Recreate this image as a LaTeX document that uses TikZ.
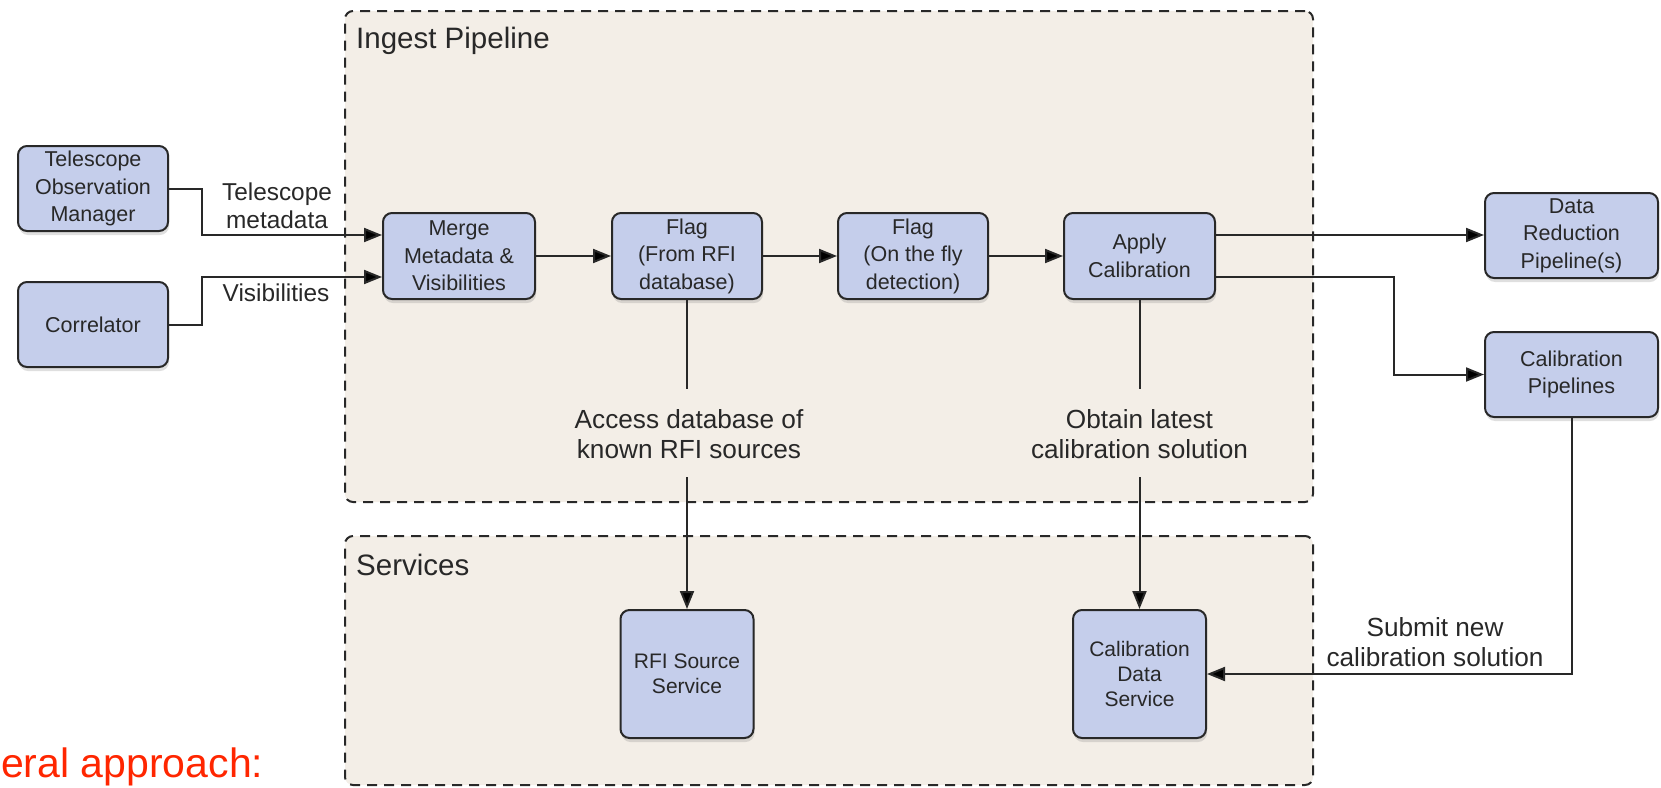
\documentclass[tikz,border=0pt]{standalone}
\usepackage{fontspec}
\setmainfont{Liberation Sans}
\usetikzlibrary{arrows.meta,shadows}

\definecolor{boxfill}{RGB}{197,206,235}
\definecolor{panelfill}{RGB}{243,238,231}
\definecolor{ink}{RGB}{40,40,40}
\definecolor{redtxt}{RGB}{255,38,0}

\tikzset{
  proc/.style={draw=ink, line width=2pt, fill=boxfill, rounded corners=9pt,
    align=center, text=ink, inner sep=0pt,
    font=\fontsize{21.5}{27.5}\selectfont,
    drop shadow={shadow xshift=1pt, shadow yshift=-4pt, opacity=0.25}},
  svc/.style={proc, font=\fontsize{21}{25}\selectfont},
  panel/.style={draw=ink, line width=2pt, dash pattern=on 10pt off 7pt,
    fill=panelfill, rounded corners=8pt, inner sep=0pt},
  conn/.style={draw=ink, line width=2pt, -{Triangle[length=18pt,width=14pt,fill=black]}},
  plainline/.style={draw=ink, line width=2pt},
  lbl/.style={text=ink, align=center, inner sep=0pt,
    font=\fontsize{26.2}{30.5}\selectfont},
  sidelbl/.style={text=ink, align=center, inner sep=0pt,
    font=\fontsize{24.4}{28}\selectfont},
  title/.style={text=ink, inner sep=0pt, anchor=base west,
    font=\fontsize{29.5}{34}\selectfont},
}

\begin{document}
\begin{tikzpicture}[x=1pt, y=-1pt]
\useasboundingbox (0,0) rectangle (1661,787);

% panels
\node[panel, minimum width=968pt, minimum height=491pt] (ingest) at (829,256.5) {};
\node[panel, minimum width=968pt, minimum height=249pt] (services) at (829,660.5) {};
\node[title] (ingesttitle) at (356,48) {Ingest Pipeline};
\node[title] (servicestitle) at (356,575) {Services};

% boxes
\node[proc, minimum width=150pt, minimum height=85pt] (tom) at (93,188.5) {Telescope\\Observation\\Manager};
\node[proc, minimum width=150pt, minimum height=85pt] (corr) at (93,324.5) {Correlator};
\node[proc, minimum width=152pt, minimum height=86pt] (merge) at (459,256) {Merge\\Metadata \&\\Visibilities};
\node[proc, minimum width=150pt, minimum height=86pt] (flagrfi) at (687,256) {Flag\\(From RFI\\database)};
\node[proc, minimum width=150pt, minimum height=86pt] (flagfly) at (913,256) {Flag\\(On the fly\\detection)};
\node[proc, minimum width=151pt, minimum height=86pt] (apply) at (1139.5,256) {Apply\\Calibration};
\node[proc, minimum width=173pt, minimum height=85pt] (drp) at (1571.5,235.5) {Data\\Reduction\\Pipeline(s)};
\node[proc, minimum width=173pt, minimum height=85pt] (calpipe) at (1571.5,374.5) {Calibration\\Pipelines};
\node[svc, minimum width=133pt, minimum height=128pt] (rfisvc) at (687,674) {RFI Source\\Service};
\node[svc, minimum width=133pt, minimum height=128pt] (cds) at (1139.5,674) {Calibration\\Data\\Service};

% labels
\node[sidelbl] (tmlbl) at (277,206) {Telescope\\metadata};
\node[sidelbl] (vislbl) at (276,293) {Visibilities};
\node[lbl] (acclbl) at (689,434) {Access database of\\known RFI sources};
\node[lbl] (obtlbl) at (1139.5,434) {Obtain latest\\calibration solution};
\node[lbl] (sublbl) at (1435,642) {Submit new\\calibration solution};
\node[text=redtxt, inner sep=0pt, anchor=base west, font=\fontsize{41}{48}\selectfont] (approach) at (1,777) {eral approach:};

% coordinates for broken vertical lines
\coordinate (acctop) at (687,389);
\coordinate (accbot) at (687,477);
\coordinate (obttop) at (1139.5,389);
\coordinate (obtbot) at (1139.5,477);
\coordinate (cpturn) at (1394,374.5);

% connectors
\draw[conn] (tom.east) -- ++(33,0) |- ([yshift=21pt]merge.west);
\draw[conn] (corr.east) -- ++(33,0) |- ([yshift=-21pt]merge.west);
\draw[conn] (merge) -- (flagrfi);
\draw[conn] (flagrfi) -- (flagfly);
\draw[conn] (flagfly) -- (apply);
\draw[conn] ([yshift=21pt]apply.east) -- ([yshift=21pt]apply.east -| drp.west);
\draw[conn] ([yshift=-21pt]apply.east) -| (cpturn) -- (calpipe.west);
\draw[plainline] (flagrfi.south) -- (acctop);
\draw[conn] (accbot) -- (rfisvc.north);
\draw[plainline] (apply.south) -- (obttop);
\draw[conn] (obtbot) -- (cds.north);
\draw[conn] (calpipe.south) |- (cds.east);
\end{tikzpicture}
\end{document}
